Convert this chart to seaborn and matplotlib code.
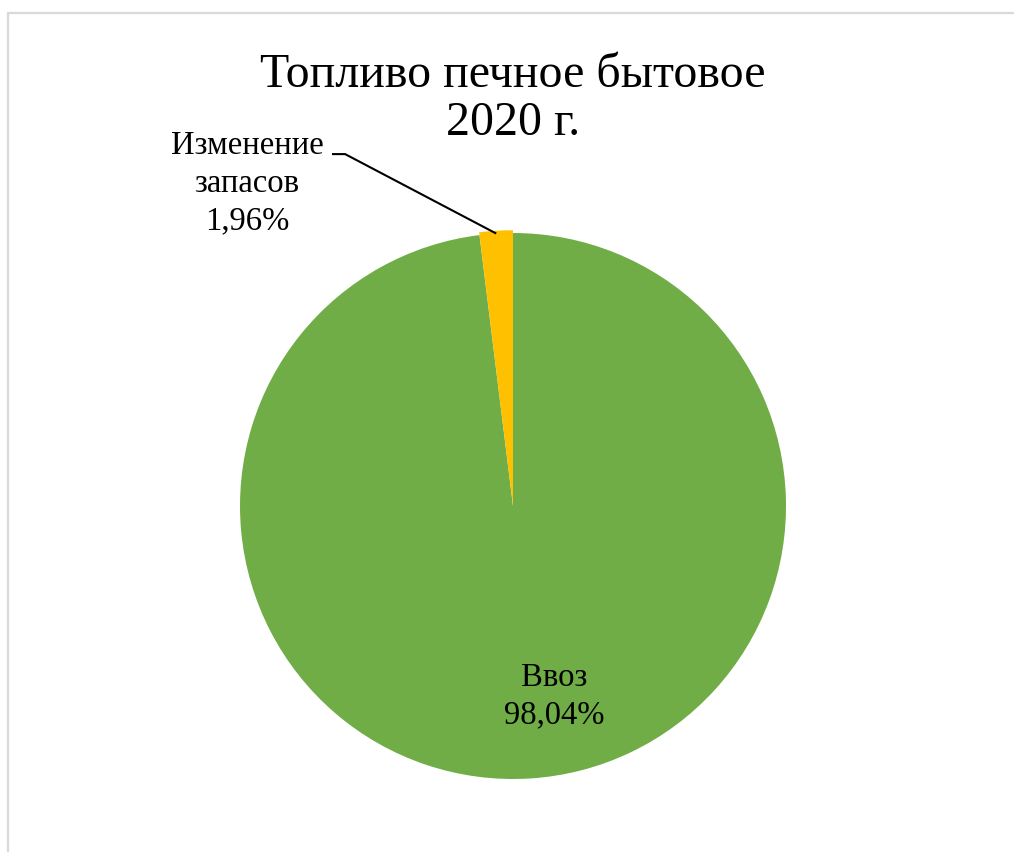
import numpy as np
import matplotlib
matplotlib.use("Agg")
import matplotlib.pyplot as plt
from matplotlib.lines import Line2D
import seaborn as sns

categories = ["Ввоз", "Изменение\nзапасов"]
values = [98.04, 1.96]
value_labels = ["98,04%", "1,96%"]
title = "Топливо печное бытовое\n2020 г."
colors = ["#70AD47", "#FFC000"]

sns.set_theme(style="white")
plt.rcParams["font.family"] = ["Liberation Serif", "DejaVu Serif"]

W, H = 1014, 853
fig = plt.figure(figsize=(W / 100, H / 100), dpi=100)
fig.patch.set_facecolor("white")

cx, cy, r = 513, 507, 273
ax = fig.add_axes([(cx - r) / W, (H - cy - r) / H, 2 * r / W, 2 * r / H])
wedges, _ = ax.pie(values, colors=colors, startangle=90, counterclock=False,
                   radius=1.0, wedgeprops=dict(linewidth=0))
wedges[1].set_radius(1.01)
ax.set_xlim(-1, 1)
ax.set_ylim(-1, 1)
ax.set_aspect("equal")
ax.axis("off")

# label inside the big slice
ax.text(0.15, -0.695, f"{categories[0]}\n{value_labels[0]}", ha="center", va="center",
        fontsize=23.5, color="black", linespacing=1.3)

# label outside the small slice with leader line
theta = np.deg2rad(90 + values[1] / sum(values) * 360 / 2)
px, py = 1.0 * np.cos(theta), 1.0 * np.sin(theta)
ax.plot([-0.663, -0.615, px], [1.289, 1.289, py], color="black", lw=1.5,
        clip_on=False, solid_capstyle="butt")
ax.text(-0.974, 1.185, f"{categories[1]}\n{value_labels[1]}", ha="center", va="center",
        fontsize=23.5, color="black", linespacing=1.3)

fig.text(cx / W, 1 - 53 / H, title, ha="center", va="top", fontsize=34.5,
         linespacing=1.12, color="black")

# chart-area border (left and top visible)
bc = "#D9D9D9"
fig.add_artist(Line2D([8 / W, 8 / W], [0, 1 - 14 / H], color=bc, lw=1.6, transform=fig.transFigure))
fig.add_artist(Line2D([8 / W, 1], [1 - 14 / H, 1 - 14 / H], color=bc, lw=1.6, transform=fig.transFigure))

fig.savefig("out.png", dpi=100, facecolor="white")
